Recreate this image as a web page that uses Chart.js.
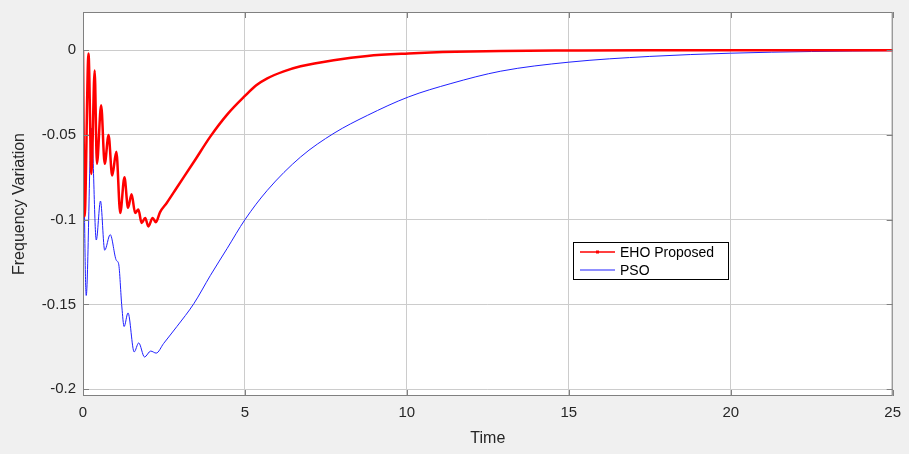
<!DOCTYPE html>
<html lang="en">
<head>
    <meta charset="UTF-8">
    <title>Frequency Variation</title>
    <script src="https://cdn.jsdelivr.net/npm/chart.js"></script>
    <style>
        body { margin: 0; background: #f0f0f0; }
        #wrap { width: 909px; height: 454px; }
    </style>
</head>
<body>
    <div id="wrap"><canvas id="myChart" width="909" height="454"></canvas></div>

    <script>
        // values
        const ehoTime = [0, 0.02, 0.05, 0.17, 0.26, 0.36, 0.43, 0.56, 0.67, 0.79, 0.9, 1.03, 1.15, 1.28, 1.39, 1.5, 1.61, 1.71, 1.81, 1.92, 2.02, 2.15, 2.25, 2.38, 2.59, 2.9, 3.42, 3.93, 4.45, 5.0, 5.35, 5.69, 6.2, 6.72, 7.74, 8.78, 10.05, 11.5, 12.9, 15, 17.5, 20, 22.5, 25];
        const ehoValue = [0, -0.05, -0.098, -0.002, -0.073, -0.012, -0.067, -0.0325, -0.067, -0.05, -0.074, -0.06, -0.096, -0.075, -0.093, -0.085, -0.096, -0.094, -0.102, -0.099, -0.104, -0.099, -0.1015, -0.0955, -0.09, -0.081, -0.066, -0.051, -0.038, -0.027, -0.0207, -0.0166, -0.0125, -0.0095, -0.0059, -0.0034, -0.002, -0.001, -0.0005, -0.0002, 0, 0, 0, 0];

        const psoTime = [0, 0.03, 0.10, 0.26, 0.41, 0.54, 0.67, 0.84, 1.03, 1.1, 1.2, 1.27, 1.39, 1.58, 1.72, 1.9, 2.09, 2.26, 2.49, 2.9, 3.42, 3.93, 4.45, 5.0, 5.69, 6.72, 7.75, 8.78, 10.05, 11.36, 12.9, 15, 17.5, 20, 22.5, 25];
        const psoValue = [0, -0.07, -0.1447, -0.046, -0.112, -0.089, -0.118, -0.1088, -0.124, -0.126, -0.1515, -0.163, -0.155, -0.178, -0.1727, -0.181, -0.1775, -0.1787, -0.173, -0.163, -0.1496, -0.133, -0.117, -0.1, -0.0827, -0.063, -0.049, -0.0385, -0.0276, -0.0197, -0.0124, -0.0071, -0.0037, -0.0018, -0.0008, -0.0003];

        const xTicks = [0, 5, 10, 15, 20, 25];
        const yTicks = [0, -0.05, -0.1, -0.15, -0.2];

        const seriesNames = ['EHO Proposed', 'PSO'];

        function toPoints(xs, ys) {
            return xs.map(function (x, i) { return { x: x, y: ys[i] }; });
        }

        // MATLAB style box, inward ticks and legend inside the axes
        const matlabBox = {
            id: 'matlabBox',
            afterDatasetsDraw: function (chart) {
                const ctx = chart.ctx;
                const a = chart.chartArea;
                const xs = chart.scales.x, ys = chart.scales.y;
                ctx.save();
                ctx.strokeStyle = '#808080';
                ctx.lineWidth = 1;
                ctx.strokeRect(a.left + 0.5, a.top + 0.5, a.right - a.left - 1, a.bottom - a.top - 1);
                ctx.beginPath();
                xTicks.forEach(function (t) {
                    const px = Math.round(xs.getPixelForValue(t)) + 0.5;
                    ctx.moveTo(px, a.bottom); ctx.lineTo(px, a.bottom - 6);
                    ctx.moveTo(px, a.top); ctx.lineTo(px, a.top + 6);
                });
                yTicks.forEach(function (t) {
                    const py = Math.round(ys.getPixelForValue(t)) + 0.5;
                    ctx.moveTo(a.left, py); ctx.lineTo(a.left + 6, py);
                    ctx.moveTo(a.right, py); ctx.lineTo(a.right - 6, py);
                });
                ctx.stroke();

                // legend
                const lx = 573, ly = 242, lw = 155, lh = 37;
                ctx.fillStyle = '#ffffff';
                ctx.fillRect(lx, ly, lw, lh);
                ctx.strokeStyle = '#000000';
                ctx.strokeRect(lx + 0.5, ly + 0.5, lw, lh);
                ctx.font = '14px "Liberation Sans", Arial, sans-serif';
                ctx.textBaseline = 'middle';
                chart.data.datasets.forEach(function (ds, i) {
                    const y = ly + 10 + i * 18;
                    ctx.strokeStyle = ds.borderColor;
                    ctx.lineWidth = i === 0 ? 1.5 : 1;
                    ctx.beginPath();
                    ctx.moveTo(lx + 7, y); ctx.lineTo(lx + 42, y);
                    ctx.stroke();
                    if (i === 0) {
                        ctx.fillStyle = ds.borderColor;
                        ctx.fillRect(lx + 23, y - 1.5, 3, 3);
                    }
                    ctx.fillStyle = '#000000';
                    ctx.fillText(ds.label, lx + 47, y + 1);
                });
                ctx.restore();
            }
        };

        const plotBg = {
            id: 'plotBg',
            beforeDraw: function (chart) {
                const a = chart.chartArea;
                chart.ctx.save();
                chart.ctx.fillStyle = '#ffffff';
                chart.ctx.fillRect(a.left, a.top, a.right - a.left, a.bottom - a.top);
                chart.ctx.restore();
            }
        };

        const tickFont = { family: '"Liberation Sans", Arial, sans-serif', size: 15 };
        const titleFont = { family: '"Liberation Sans", Arial, sans-serif', size: 16 };

        new Chart(document.getElementById('myChart').getContext('2d'), {
            type: 'line',
            data: {
                datasets: [{
                    label: seriesNames[0],
                    data: toPoints(ehoTime, ehoValue),
                    borderColor: '#ff0000',
                    borderWidth: 2.5,
                    pointRadius: 0,
                    cubicInterpolationMode: 'monotone'
                }, {
                    label: seriesNames[1],
                    data: toPoints(psoTime, psoValue),
                    borderColor: '#2020ff',
                    borderWidth: 1,
                    pointRadius: 0,
                    cubicInterpolationMode: 'monotone'
                }]
            },
            options: {
                responsive: false,
                animation: false,
                layout: { padding: { top: 12, right: 13, bottom: 0, left: 0 } },
                plugins: { legend: { display: false }, tooltip: { enabled: false } },
                scales: {
                    x: {
                        type: 'linear',
                        min: 0,
                        max: 25,
                        afterBuildTicks: function (s) { s.ticks = xTicks.map(function (v) { return { value: v }; }); },
                        afterFit: function (s) { s.height = 58; },
                        ticks: { font: tickFont, color: '#262626', padding: 8, maxRotation: 0 },
                        grid: { color: '#cccccc', drawTicks: false },
                        border: { display: false },
                        title: { display: true, text: 'Time', font: titleFont, color: '#262626', padding: { top: 0, bottom: 6 } }
                    },
                    y: {
                        min: -0.204,
                        max: 0.0225,
                        afterBuildTicks: function (s) { s.ticks = yTicks.map(function (v) { return { value: v }; }); },
                        afterFit: function (s) { s.width = 83; s.paddingTop = 0; s.paddingBottom = 0; },
                        ticks: {
                            font: tickFont, color: '#262626', padding: 7,
                            callback: function (v) { return String(v); }
                        },
                        grid: { color: '#cccccc', drawTicks: false },
                        border: { display: false },
                        title: { display: true, text: 'Frequency Variation', font: titleFont, color: '#262626', padding: { top: 10, bottom: 0 } }
                    }
                }
            },
            plugins: [plotBg, matlabBox]
        });
    </script>
</body>
</html>
